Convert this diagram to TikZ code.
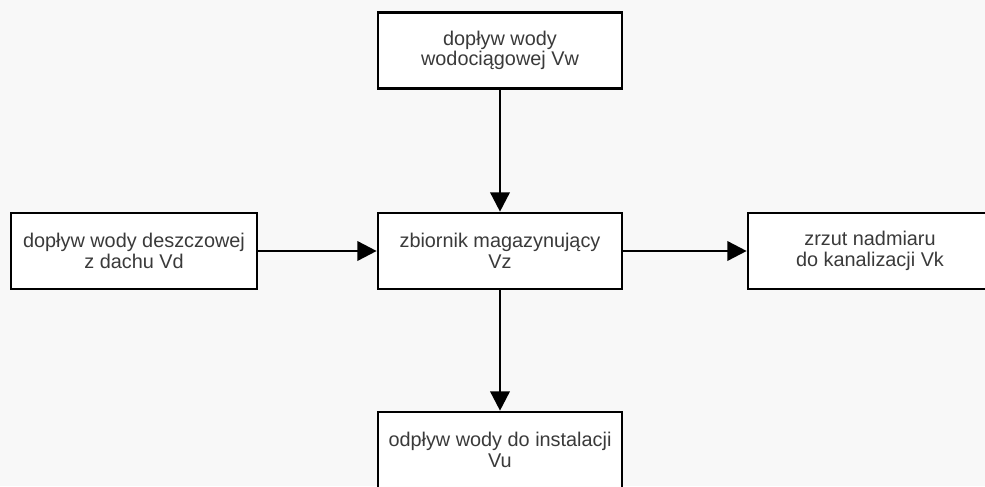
\documentclass[tikz,border=0pt]{standalone}
\usepackage{fontspec}
\setmainfont{Liberation Sans}
\usetikzlibrary{arrows.meta}
\definecolor{bggray}{HTML}{F8F8F8}
\definecolor{txtgray}{HTML}{3A3A3A}
\begin{document}
\begin{tikzpicture}[
    box/.style={draw=black,line width=1.5pt,fill=white,minimum width=4.88cm,
      minimum height=1.52cm,align=center,text=txtgray,
      font=\fontsize{11.3}{11.8}\selectfont},
    flow/.style={line width=1.5pt,-{Triangle[length=11pt,width=11pt]}}
  ]
  % Page and background
  \useasboundingbox (0,0) rectangle (19.7,9.72);
  \clip (0,0) rectangle (19.7,9.72);
  \fill[bggray] (0,0) rectangle (19.7,9.72);

  % Boxes
  \node[box] (vw) at (10.0,8.71) {dopływ wody\\wodociągowej Vw};
  \node[box] (vz) at (10.0,4.70) {zbiornik magazynujący\\Vz};
  \node[box,minimum width=4.92cm] (vd) at (2.68,4.70) {dopływ wody deszczowej\\z dachu Vd};
  \node[box] (vk) at (17.40,4.70) {zrzut nadmiaru\\do kanalizacji Vk};
  \node[box] (vu) at (10.0,0.72) {odpływ wody do instalacji\\Vu};

  % Flows
  \draw[flow] (vw) -- (vz);
  \draw[flow] (vd) -- (vz);
  \draw[flow] (vz) -- (vk);
  \draw[flow] (vz) -- (vu);
\end{tikzpicture}
\end{document}
